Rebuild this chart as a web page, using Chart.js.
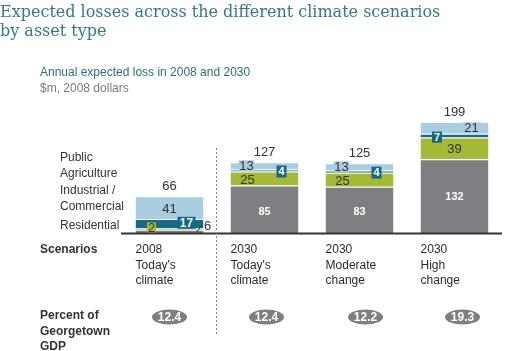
<!DOCTYPE html>
<html>
<head>
<meta charset="utf-8">
<script src="https://cdn.jsdelivr.net/npm/chart.js@4"></script>
<style>
  body { margin: 0; background: #fff; width: 506px; height: 351px; overflow: hidden; position: relative; }
  #chart { position: absolute; left: 0; top: 0; }
  .txt { position: absolute; white-space: nowrap; font-family: "Liberation Sans", Arial, sans-serif; }
  .title { left: 0; top: 2px; font-family: "DejaVu Serif", serif; font-size: 16px; line-height: 19px; color: #33798b; }
  .sub { left: 40px; font-size: 12px; line-height: 15px; }
  .lbl { left: 60px; font-size: 12px; line-height: 16px; color: #333; }
  .head { left: 40px; font-size: 12px; line-height: 15.5px; font-weight: bold; color: #333; }
</style>
</head>
<body>
<canvas id="chart" width="506" height="351"></canvas>
<div class="txt title">Expected losses across the different climate scenarios<br>by asset type</div>
<div class="txt sub" style="top:65px;color:#2a6f86">Annual expected loss in 2008 and 2030</div>
<div class="txt sub" style="top:81px;color:#7a7a7a">$m, 2008 dollars</div>
<div class="txt lbl" style="top:149px">Public</div>
<div class="txt lbl" style="top:165px">Agriculture</div>
<div class="txt lbl" style="top:182px">Industrial /<br>Commercial</div>
<div class="txt lbl" style="top:217px">Residential</div>
<div class="txt head" style="top:242px">Scenarios</div>
<div class="txt head" style="top:308px">Percent of<br>Georgetown<br>GDP</div>
<script>
// ---- data ----
const categories = [
    ["2008", "Today's", "climate"],
    ["2030", "Today's", "climate"],
    ["2030", "Moderate", "change"],
    ["2030", "High", "change"]
];
const residential = [6, 85, 83, 132];
const agriculture = [2, 25, 25, 39];
const industrial = [17, 4, 4, 7];
const publicAssets = [41, 13, 13, 21];
const totals = [66, 127, 125, 199];
const gdpPercent = [12.4, 12.4, 12.2, 19.3];

// colours
const cGrey = '#7e7f83';
const cGreen = '#a6b935';
const cTeal = '#17698a';
const cLight = '#a9cee2';

// label placement per dataset / bar (pixel offsets from segment centre)
const labelStyle = [
    // residential
    [{ dx: 38, dy: -5, color: '#333', size: 13, leader: true },
     { dx: 0, dy: 2, color: '#fff', size: 11, bold: true },
     { dx: 0, dy: 2, color: '#fff', size: 11, bold: true },
     { dx: 0, dy: 0, color: '#fff', size: 11, bold: true }],
    // agriculture
    [{ dx: -18, dy: -1.2, color: '#333', size: 13, box: cGreen, w: 9, h: 11 },
     { dx: -17, dy: 1.5, color: '#333', size: 13 },
     { dx: -17, dy: 1.5, color: '#333', size: 13 },
     { dx: 0, dy: 0.5, color: '#333', size: 13 }],
    // industrial
    [{ dx: 17, dy: -1, color: '#fff', size: 12, bold: true, box: cTeal, w: 18, h: 12 },
     { dx: 17, dy: 1, color: '#fff', size: 11, bold: true, box: cTeal, w: 10, h: 12 },
     { dx: 17, dy: 1, color: '#fff', size: 11, bold: true, box: cTeal, w: 10, h: 12 },
     { dx: -17.5, dy: 1.5, color: '#fff', size: 11, bold: true, box: cTeal, w: 10, h: 11 }],
    // public
    [{ dx: 0, dy: 1, color: '#333', size: 13 },
     { dx: -18, dy: 0, color: '#333', size: 13, box: cLight, w: 16, h: 11 },
     { dx: -18, dy: 0, color: '#333', size: 13, box: cLight, w: 16, h: 11 },
     { dx: 17, dy: 0, color: '#333', size: 13, box: cLight, w: 19, h: 11 }]
];
const pillShift = [0, 2, 6, 8];

function font(size, bold) {
    return (bold ? 'bold ' : '') + size + 'px "Liberation Sans", Arial, sans-serif';
}

const annotate = {
    id: 'annotate',
    afterDatasetsDraw(chart) {
        const ctx = chart.ctx;
        const area = chart.chartArea;
        const yScale = chart.scales.y;
        const base = yScale.getPixelForValue(0);
        ctx.save();

        // segment labels
        chart.data.datasets.forEach((ds, i) => {
            const meta = chart.getDatasetMeta(i);
            meta.data.forEach((bar, j) => {
                const o = labelStyle[i][j];
                const x = bar.x + o.dx;
                const y = (bar.y + bar.base) / 2 + o.dy;
                if (o.box) {
                    ctx.fillStyle = o.box;
                    ctx.fillRect(x - o.w / 2, y - o.h / 2, o.w, o.h);
                }
                if (o.leader) {
                    ctx.strokeStyle = '#333';
                    ctx.lineWidth = 1;
                    ctx.beginPath();
                    ctx.moveTo(bar.x + 27, base - 1);
                    ctx.lineTo(bar.x + 33, base - 8);
                    ctx.stroke();
                }
                ctx.font = font(o.size, o.bold);
                ctx.fillStyle = o.color;
                ctx.textAlign = 'center';
                ctx.textBaseline = 'middle';
                ctx.fillText(String(ds.data[j]), x, y + 0.5);
            });
        });

        // baseline
        ctx.strokeStyle = '#333';
        ctx.lineWidth = 2;
        ctx.beginPath();
        ctx.moveTo(area.left - 1, base + 0.5);
        ctx.lineTo(area.right, base + 0.5);
        ctx.stroke();

        // divider between 2008 and 2030
        const m0 = chart.getDatasetMeta(0).data;
        const divX = Math.round((m0[0].x + m0[1].x) / 2) - 0.5;
        ctx.strokeStyle = '#808080';
        ctx.lineWidth = 1;
        ctx.setLineDash([2, 2]);
        ctx.beginPath();
        ctx.moveTo(divX, 148);
        ctx.lineTo(divX, 336);
        ctx.stroke();
        ctx.setLineDash([]);

        const top = chart.getDatasetMeta(3).data;
        m0.forEach((bar, j) => {
            // totals
            ctx.font = font(13, false);
            ctx.fillStyle = '#333';
            ctx.textAlign = 'center';
            ctx.textBaseline = 'middle';
            ctx.fillText(String(totals[j]), bar.x, top[j].y - 10);

            // category labels
            const left = bar.x - bar.width / 2;
            ctx.font = font(12, false);
            ctx.fillStyle = '#2a2a2a';
            ctx.textAlign = 'left';
            categories[j].forEach((line, k) => {
                ctx.fillText(line, left, 250 + k * 15.5);
            });

            // GDP pills
            const px = bar.x + pillShift[j];
            ctx.fillStyle = cGrey;
            ctx.beginPath();
            ctx.ellipse(px, 317, 17.5, 7.5, 0, 0, Math.PI * 2);
            ctx.fill();
            ctx.font = font(12, true);
            ctx.fillStyle = '#fff';
            ctx.textAlign = 'center';
            ctx.fillText(gdpPercent[j].toFixed(1), px, 317.5);
        });
        ctx.restore();
    }
};

const segBorder = { top: 1, right: 0, bottom: 0, left: 0 };

new Chart(document.getElementById('chart').getContext('2d'), {
    type: 'bar',
    data: {
        labels: categories.map(c => c.join(' ')),
        datasets: [
            { label: 'Residential', data: residential, backgroundColor: cGrey, borderColor: '#fff', borderWidth: segBorder },
            { label: 'Agriculture', data: agriculture, backgroundColor: cGreen, borderColor: '#fff', borderWidth: segBorder },
            { label: 'Industrial / Commercial', data: industrial, backgroundColor: cTeal, borderColor: '#fff', borderWidth: segBorder },
            { label: 'Public', data: publicAssets, backgroundColor: cLight, borderColor: '#fff', borderWidth: segBorder }
        ]
    },
    options: {
        responsive: false,
        animation: false,
        layout: { padding: { left: 122, right: 4, top: 121.4, bottom: 118 } },
        datasets: { bar: { categoryPercentage: 1, barPercentage: 0.715 } },
        plugins: { legend: { display: false }, tooltip: { enabled: false } },
        scales: {
            x: { stacked: true, display: false },
            y: { stacked: true, display: false, min: 0, max: 200 }
        }
    },
    plugins: [annotate]
});
</script>
</body>
</html>
